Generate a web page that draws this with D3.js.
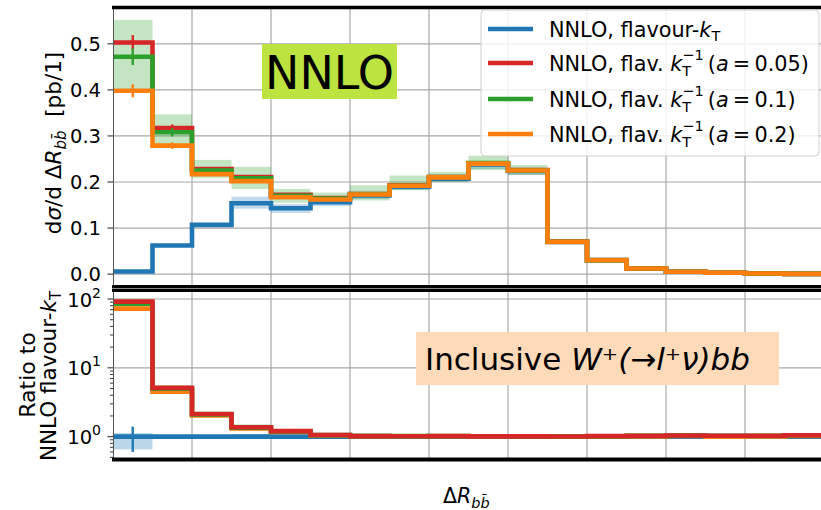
<!DOCTYPE html>
<html>
<head>
<meta charset="utf-8">
<script src="https://cdn.jsdelivr.net/npm/d3@7"></script>
<style>
  body { margin: 0; background: #fff; }
  svg { display: block; }
  text { font-family: "DejaVu Sans", sans-serif; fill: #000; }
</style>
</head>
<body>
<svg id="chart" width="821" height="510"></svg>
<script>
// ---- data: ΔR_bb̄ distribution, inclusive W+(→l+ν)bb at NNLO ----
const binEdges = [0, 0.5, 1, 1.5, 2, 2.5, 3, 3.5, 4, 4.5, 5, 5.5, 6, 6.5, 7, 7.5, 8, 8.5, 9];

// dσ/dΔR [pb/1] per bin
const flavKt   = [0.0055, 0.062, 0.107, 0.154, 0.143, 0.156, 0.171, 0.190, 0.207, 0.238, 0.224, 0.070, 0.030, 0.0120, 0.0050, 0.0030, 0.00120, 0.00040];
const flavA005 = [0.503, 0.317, 0.228, 0.211, 0.172, 0.165, 0.174, 0.193, 0.211, 0.240, 0.226, 0.0705, 0.0305, 0.0123, 0.0052, 0.0031, 0.00124, 0.00042];
const flavA01  = [0.472, 0.308, 0.225, 0.208, 0.170, 0.164, 0.174, 0.192, 0.211, 0.241, 0.225, 0.0703, 0.0304, 0.0123, 0.0052, 0.0031, 0.00124, 0.00042];
const flavA02  = [0.398, 0.279, 0.217, 0.202, 0.167, 0.162, 0.173, 0.192, 0.210, 0.240, 0.225, 0.0700, 0.0301, 0.0121, 0.0051, 0.0030, 0.00121, 0.00041];

// statistical errors
const flavKtErr   = [0.0022, 0.0015, 0.0015, 0.0020, 0.0020, 0.0020, 0.0015, 0.0015, 0.0020, 0.0020, 0.0015, 0.0008, 0.0004, 0.0002, 0.0001, 0.0001, 0.00003, 0.00001];
const flavA005Err = [0.016, 0.008, 0.004, 0.004, 0.003, 0.002, 0.002, 0.002, 0.002, 0.003, 0.002, 0.0008, 0.0004, 0.0002, 0.0001, 0.0001, 0.00004, 0.00002];
const flavA01Err  = [0.018, 0.009, 0.004, 0.003, 0.003, 0.002, 0.002, 0.002, 0.002, 0.003, 0.002, 0.0008, 0.0004, 0.0002, 0.0001, 0.0001, 0.00004, 0.00002];
const flavA02Err  = [0.014, 0.007, 0.004, 0.004, 0.003, 0.002, 0.002, 0.002, 0.002, 0.003, 0.002, 0.0008, 0.0004, 0.0002, 0.0001, 0.0001, 0.00003, 0.00001];

// scale-variation bands
const flavKtLo  = [0.0036, 0.060, 0.104, 0.142, 0.133, 0.148, 0.163, 0.182, 0.200, 0.228, 0.215, 0.067, 0.029, 0.0116, 0.0048, 0.0029, 0.00116, 0.00039];
const flavKtHi  = [0.0062, 0.065, 0.111, 0.168, 0.152, 0.162, 0.178, 0.196, 0.213, 0.246, 0.231, 0.072, 0.031, 0.0124, 0.0052, 0.0031, 0.00124, 0.00041];
const flavA01Lo = [0.400, 0.280, 0.209, 0.185, 0.155, 0.158, 0.160, 0.183, 0.200, 0.226, 0.215, 0.066, 0.0290, 0.0119, 0.0050, 0.0030, 0.00120, 0.00040];
const flavA01Hi = [0.552, 0.347, 0.248, 0.233, 0.185, 0.177, 0.193, 0.214, 0.222, 0.257, 0.237, 0.074, 0.0330, 0.0133, 0.0056, 0.0033, 0.00133, 0.00045];

const topTicks   = [0, 0.1, 0.2, 0.3, 0.4, 0.5];
const ratioTicks = [1, 10, 100];
const gridX      = [1, 2, 3, 4, 5, 6, 7, 8, 9];

const C = { blue: "#1f77b4", red: "#d62728", green: "#2ca02c", orange: "#ff7f0e" };

// ---- layout ----
const svg = d3.select("#chart");
const L = 113, R = 824;
const topY0 = 7, topY1 = 287;
const botY0 = 291, botY1 = 460;

const x = d3.scaleLinear().domain([0, 9]).range([L, R]);
const yTop = d3.scaleLinear().domain([-0.028, 0.58]).range([topY1, topY0]);
const yRat = d3.scaleLog().domain([0.458, 130.7]).range([botY1, botY0]);

const defs = svg.append("defs");
defs.append("clipPath").attr("id", "clipTop").append("rect")
  .attr("x", L).attr("y", topY0).attr("width", R - L).attr("height", topY1 - topY0);
defs.append("clipPath").attr("id", "clipBot").append("rect")
  .attr("x", L).attr("y", botY0).attr("width", R - L).attr("height", botY1 - botY0);

const gridColor = "#a8a8a8";

// grids
function grid(g, yScale, yVals, y0, y1) {
  g.selectAll("line.gx").data(gridX).join("line").attr("class", "gx")
    .attr("x1", d => x(d)).attr("x2", d => x(d)).attr("y1", y0).attr("y2", y1)
    .attr("stroke", gridColor).attr("stroke-width", 1.2);
  g.selectAll("line.gy").data(yVals).join("line").attr("class", "gy")
    .attr("x1", L).attr("x2", R).attr("y1", d => yScale(d)).attr("y2", d => yScale(d))
    .attr("stroke", gridColor).attr("stroke-width", 1.2);
}

const gTop = svg.append("g").attr("clip-path", "url(#clipTop)");
const gBot = svg.append("g").attr("clip-path", "url(#clipBot)");
grid(gTop, yTop, topTicks, topY0, topY1);
grid(gBot, yRat, ratioTicks, botY0, botY1);

// helpers
function stepPoints(vals) {
  const pts = [];
  vals.forEach((v, i) => { pts.push([binEdges[i], v]); pts.push([binEdges[i + 1], v]); });
  return pts;
}
function drawStep(g, yScale, vals, color) {
  const line = d3.line().x(d => x(d[0])).y(d => yScale(d[1]));
  g.append("path").datum(stepPoints(vals)).attr("d", line)
    .attr("fill", "none").attr("stroke", color).attr("stroke-width", 4.6)
    .attr("stroke-linejoin", "miter");
}
function drawBand(g, yScale, lo, hi, color, op) {
  g.append("g").selectAll("rect").data(lo.map((l, i) => ({ i, l, h: hi[i] }))).join("rect")
    .attr("x", d => x(binEdges[d.i])).attr("width", d => x(binEdges[d.i + 1]) - x(binEdges[d.i]))
    .attr("y", d => yScale(d.h)).attr("height", d => Math.max(0, yScale(d.l) - yScale(d.h)))
    .attr("fill", color).attr("opacity", op);
}
function drawErr(g, yScale, vals, errs, color) {
  g.append("g").selectAll("line").data(vals.map((v, i) => ({ i, v, e: errs[i] }))).join("line")
    .attr("x1", d => x((binEdges[d.i] + binEdges[d.i + 1]) / 2))
    .attr("x2", d => x((binEdges[d.i] + binEdges[d.i + 1]) / 2))
    .attr("y1", d => yScale(Math.max(d.v - d.e, 1e-6)))
    .attr("y2", d => yScale(d.v + d.e))
    .attr("stroke", color).attr("stroke-width", 2.4);
}

// ---- top panel: absolute distributions ----
drawBand(gTop, yTop, flavKtLo, flavKtHi, C.blue, 0.28);
drawBand(gTop, yTop, flavA01Lo, flavA01Hi, C.green, 0.28);
drawStep(gTop, yTop, flavKt, C.blue);
drawErr(gTop, yTop, flavKt, flavKtErr, C.blue);
drawStep(gTop, yTop, flavA005, C.red);
drawErr(gTop, yTop, flavA005, flavA005Err, C.red);
drawStep(gTop, yTop, flavA01, C.green);
drawErr(gTop, yTop, flavA01, flavA01Err, C.green);
drawStep(gTop, yTop, flavA02, C.orange);
drawErr(gTop, yTop, flavA02, flavA02Err, C.orange);

// ---- bottom panel: ratio to flavour-kT ----
const ratio = arr => arr.map((v, i) => v / flavKt[i]);
drawBand(gBot, yRat, ratio(flavKtLo), ratio(flavKtHi), C.blue, 0.3);
drawBand(gBot, yRat, ratio(flavA01Lo), ratio(flavA01Hi), C.green, 0.28);
drawStep(gBot, yRat, ratio(flavKt), C.blue);
drawErr(gBot, yRat, ratio(flavKt), ratio(flavKtErr), C.blue);
drawStep(gBot, yRat, ratio(flavA02), C.orange);
drawErr(gBot, yRat, ratio(flavA02), ratio(flavA02Err), C.orange);
drawStep(gBot, yRat, ratio(flavA01), C.green);
drawErr(gBot, yRat, ratio(flavA01), ratio(flavA01Err), C.green);
drawStep(gBot, yRat, ratio(flavA005), C.red);
drawErr(gBot, yRat, ratio(flavA005), ratio(flavA005Err), C.red);

// ---- axes ----
svg.append("line").attr("x1", L + 0.5).attr("x2", L + 0.5).attr("y1", topY0).attr("y2", botY1)
  .attr("stroke", "#555").attr("stroke-width", 1);

// top y ticks
const tTop = svg.append("g");
tTop.selectAll("line").data(topTicks).join("line")
  .attr("x1", L - 5.5).attr("x2", L).attr("y1", d => yTop(d)).attr("y2", d => yTop(d))
  .attr("stroke", "#222").attr("stroke-width", 1);
tTop.selectAll("text").data(topTicks).join("text")
  .attr("x", L - 12).attr("y", d => yTop(d)).attr("dy", "0.36em")
  .attr("text-anchor", "end").attr("font-size", 19.5)
  .text(d => d3.format(".1f")(d));

// ratio y ticks (log)
const minor = [];
[0.1, 1, 10].forEach(dec => { for (let k = 2; k <= 9; k++) minor.push(dec * k); });
const minorIn = minor.filter(v => v >= yRat.domain()[0] && v <= yRat.domain()[1]);
const tBot = svg.append("g");
tBot.selectAll("line.mn").data(minorIn).join("line").attr("class", "mn")
  .attr("x1", L - 3).attr("x2", L).attr("y1", d => yRat(d)).attr("y2", d => yRat(d))
  .attr("stroke", "#222").attr("stroke-width", 0.9);
tBot.selectAll("line.mj").data(ratioTicks).join("line").attr("class", "mj")
  .attr("x1", L - 5.5).attr("x2", L).attr("y1", d => yRat(d)).attr("y2", d => yRat(d))
  .attr("stroke", "#222").attr("stroke-width", 1);
const rl = tBot.selectAll("text").data(ratioTicks).join("text")
  .attr("x", L - 12).attr("y", d => yRat(d) + 7.5)
  .attr("text-anchor", "end").attr("font-size", 19.5);
rl.append("tspan").text("10");
rl.append("tspan").attr("dy", -9).attr("font-size", 14).text(d => Math.round(Math.log10(d)));

// spines
svg.append("line").attr("x1", L - 1).attr("x2", 821).attr("y1", 7.5).attr("y2", 7.5)
  .attr("stroke", "#000").attr("stroke-width", 3.5);
svg.append("rect").attr("x", L - 1).attr("y", 285).attr("width", 821 - L + 1).attr("height", 7).attr("fill", "#000");
svg.append("line").attr("x1", L - 1).attr("x2", 821).attr("y1", 288.5).attr("y2", 288.5)
  .attr("stroke", "#888").attr("stroke-width", 1);
svg.append("line").attr("x1", L - 1).attr("x2", 821).attr("y1", 459.5).attr("y2", 459.5)
  .attr("stroke", "#000").attr("stroke-width", 4);

// ---- axis labels ----
const yl = svg.append("text").attr("transform", "translate(61,143) rotate(-90)")
  .attr("text-anchor", "middle").attr("font-size", 21.5);
yl.append("tspan").text("d");
yl.append("tspan").attr("font-style", "italic").text("σ");
yl.append("tspan").text("/d Δ");
yl.append("tspan").attr("font-style", "italic").text("R");
yl.append("tspan").attr("font-style", "italic").attr("font-size", 15).attr("dy", 5).text("bb\u0304");
yl.append("tspan").attr("dy", -5).text("\u00a0\u00a0[pb/1]");

svg.append("text").attr("transform", "translate(35,375) rotate(-90)")
  .attr("text-anchor", "middle").attr("font-size", 22).text("Ratio to");
const rl2 = svg.append("text").attr("transform", "translate(56,376) rotate(-90)")
  .attr("text-anchor", "middle").attr("font-size", 21.5);
rl2.append("tspan").text("NNLO flavour-");
rl2.append("tspan").attr("font-style", "italic").text("k");
rl2.append("tspan").attr("font-size", 15).attr("dy", 5).text("T");

const xl = svg.append("text").attr("x", 443).attr("y", 503).attr("font-size", 20.5);
xl.append("tspan").text("Δ");
xl.append("tspan").attr("font-style", "italic").text("R");
xl.append("tspan").attr("font-style", "italic").attr("font-size", 14.5).attr("dy", 5).text("bb\u0304");

// ---- annotations ----
svg.append("rect").attr("x", 262).attr("y", 44).attr("width", 135).attr("height", 55).attr("fill", "#bce33f");
svg.append("text").attr("x", 329.5).attr("y", 88.5).attr("text-anchor", "middle")
  .attr("font-size", 46).text("NNLO");

svg.append("rect").attr("x", 416).attr("y", 332).attr("width", 363).attr("height", 53).attr("fill", "#ffdab9");
const inc = svg.append("text").attr("x", 425).attr("y", 370).attr("font-size", 31);
inc.append("tspan").text("Inclusive ");
inc.append("tspan").attr("font-style", "italic").text("W⁺(→l⁺ν)bb");

// ---- legend ----
const legendItems = [
  { color: C.blue,   kind: "kt" },
  { color: C.red,    kind: "inv", a: "0.05" },
  { color: C.green,  kind: "inv", a: "0.1" },
  { color: C.orange, kind: "inv", a: "0.2" }
];
const lg = svg.append("g");
lg.append("rect").attr("x", 481).attr("y", 10).attr("width", 338).attr("height", 146)
  .attr("rx", 4).attr("fill", "#fff").attr("fill-opacity", 0.82)
  .attr("stroke", "#d0d0d0").attr("stroke-width", 1);
const rowY = [29, 63, 99, 134];
legendItems.forEach((it, i) => {
  const yy = rowY[i];
  lg.append("line").attr("x1", 488).attr("x2", 533).attr("y1", yy).attr("y2", yy)
    .attr("stroke", it.color).attr("stroke-width", 4.6);
  const t = lg.append("text").attr("x", 549).attr("y", yy + 7.5).attr("font-size", 20.8);
  if (it.kind === "kt") {
    t.append("tspan").text("NNLO, flavour-");
    t.append("tspan").attr("font-style", "italic").text("k");
    t.append("tspan").attr("font-size", 14.5).attr("dy", 4).text("T");
  } else {
    t.append("tspan").text("NNLO, flav. ");
    t.append("tspan").attr("font-style", "italic").text("k");
    t.append("tspan").attr("font-size", 14.5).attr("dy", 5).text("T");
    t.append("tspan").attr("font-size", 14.5).attr("dx", -8.9).attr("dy", -16).text("−1");
    t.append("tspan").attr("dy", 11).text("\u2009(");
    t.append("tspan").attr("font-style", "italic").text("a");
    t.append("tspan").text("\u2009=\u2009" + it.a + ")");
  }
});
</script>
</body>
</html>
